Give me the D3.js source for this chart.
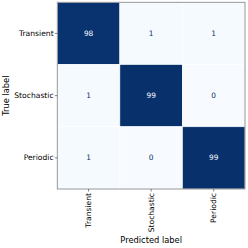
<!DOCTYPE html>
<html>
<head>
<meta charset="utf-8">
<script src="https://cdn.jsdelivr.net/npm/d3@7"></script>
<style>
  body { margin: 0; background: #fff; }
  svg { display: block; font-family: "DejaVu Sans", sans-serif; }
</style>
</head>
<body>
<svg width="248" height="248"></svg>
<script>
const svg = d3.select('svg');

// data
const trueLabels = ['Transient', 'Stochastic', 'Periodic'];
const predLabels = ['Transient', 'Stochastic', 'Periodic'];
const rowTransient = [98, 1, 1];
const rowStochastic = [1, 99, 0];
const rowPeriodic = [1, 0, 99];
const matrix = [rowTransient, rowStochastic, rowPeriodic];

const cells = [];
matrix.forEach((row, i) => row.forEach((v, j) => cells.push({ t: trueLabels[i], p: predLabels[j], v })));

const plotLeft = 57.3, plotRight = 245, plotTop = 2.3, plotBottom = 189;

const x = d3.scaleBand().domain(predLabels).range([plotLeft, plotRight]);
const y = d3.scaleBand().domain(trueLabels).range([plotTop, plotBottom]);

const vmax = d3.max(cells, d => d.v);
const color = d3.scaleSequential(d3.interpolateBlues).domain([0, vmax]);

// cells
svg.append('g').selectAll('rect').data(cells).enter()
  .append('rect')
    .attr('x', d => x(d.p))
    .attr('y', d => y(d.t))
    .attr('width', x.bandwidth())
    .attr('height', y.bandwidth())
    .attr('fill', d => color(d.v))
    .attr('stroke', '#ffffff')
    .attr('stroke-width', 0.6);

// values
svg.append('g').selectAll('text').data(cells).enter()
  .append('text')
    .attr('x', d => x(d.p) + x.bandwidth() / 2)
    .attr('y', d => y(d.t) + y.bandwidth() / 2)
    .attr('dy', '0.35em')
    .attr('text-anchor', 'middle')
    .attr('font-size', 7.4)
    .attr('fill', d => d.v > vmax / 2 ? '#f7fbff' : '#08306b')
    .text(d => d.v);

// frame
svg.append('rect')
  .attr('x', plotLeft).attr('y', plotTop)
  .attr('width', plotRight - plotLeft).attr('height', plotBottom - plotTop)
  .attr('fill', 'none')
  .attr('stroke', '#8c8c8c')
  .attr('stroke-width', 0.9);

// axes
const axisY = d3.axisLeft(y).tickSize(2.5).tickPadding(1.2);
const gy = svg.append('g')
  .attr('transform', `translate(${plotLeft},0)`)
  .call(axisY);
gy.select('.domain').remove();
gy.selectAll('line').attr('stroke', '#333').attr('stroke-width', 0.6);
gy.selectAll('text').attr('font-size', 7.6).attr('fill', '#000').attr('font-family', 'DejaVu Sans');

const axisX = d3.axisBottom(x).tickSize(2.5).tickPadding(1.2);
const gx = svg.append('g')
  .attr('transform', `translate(0,${plotBottom})`)
  .call(axisX);
gx.select('.domain').remove();
gx.selectAll('line').attr('stroke', '#333').attr('stroke-width', 0.6);
gx.selectAll('text')
  .attr('font-size', 7.6).attr('fill', '#000').attr('font-family', 'DejaVu Sans')
  .attr('transform', 'rotate(-90)')
  .attr('text-anchor', 'end')
  .attr('x', -4)
  .attr('y', 0)
  .attr('dy', '0.35em');

// axis titles
svg.append('text')
  .attr('x', (plotLeft + plotRight) / 2)
  .attr('y', 243)
  .attr('text-anchor', 'middle')
  .attr('font-size', 8.3)
  .text('Predicted label');

svg.append('text')
  .attr('transform', `translate(9,${(plotTop + plotBottom) / 2}) rotate(-90)`)
  .attr('text-anchor', 'middle')
  .attr('font-size', 8.3)
  .text('True label');
</script>
</body>
</html>
